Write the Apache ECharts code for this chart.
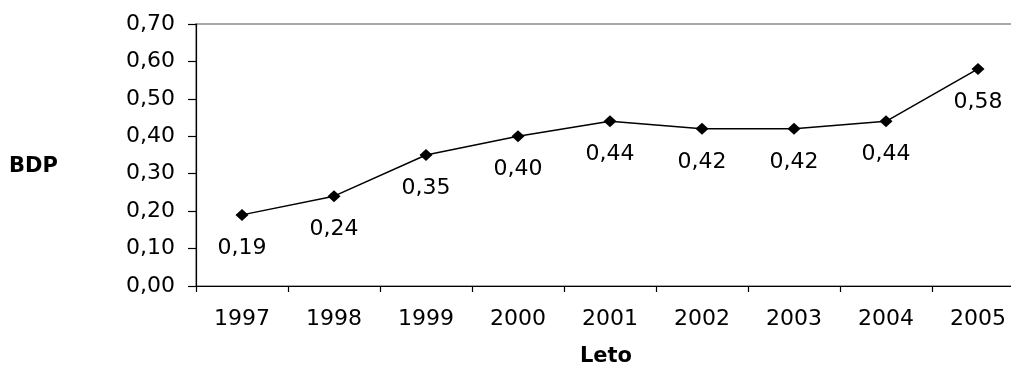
<!DOCTYPE html>
<html>
<head>
<meta charset="utf-8">
<script src="https://cdn.jsdelivr.net/npm/echarts@6/dist/echarts.min.js"></script>
<style>
html,body{margin:0;padding:0;background:#fff;}
#chart{width:1011px;height:367px;}
</style>
</head>
<body>
<div id="chart"></div>
<script>
const years = ['1997','1998','1999','2000','2001','2002','2003','2004','2005'];
const bdp = [0.19, 0.24, 0.35, 0.40, 0.44, 0.42, 0.42, 0.44, 0.58];
const yMin = 0, yMax = 0.7, yStep = 0.1;

const fmt = v => Number(v).toFixed(2).replace('.', ',');
const FONT = 'DejaVu Sans';

const chart = echarts.init(document.getElementById('chart'), null, {renderer: 'canvas'});
chart.setOption({
  backgroundColor: '#fff',
  animation: false,
  grid: {
    left: 196, top: 24, width: 828, height: 262,
    outerBoundsMode: 'none',
    containLabel: false,
    show: true, borderColor: '#8c8c8c', borderWidth: 1.5, backgroundColor: 'transparent'
  },
  graphic: [{
    type: 'text',
    left: 9, top: 156,
    style: {text: 'BDP', fontFamily: FONT, fontWeight: 'bold', fontSize: 21, fill: '#000'}
  }],
  xAxis: {
    type: 'category',
    data: years,
    boundaryGap: true,
    name: 'Leto',
    nameLocation: 'middle',
    nameGap: 60,
    nameTextStyle: {fontFamily: FONT, fontWeight: 'bold', fontSize: 21, color: '#000', padding: [0, 8, 0, 0]},
    axisLine: {show: true, lineStyle: {color: '#000', width: 1.2}},
    axisTick: {show: true, length: 6, alignWithLabel: false, lineStyle: {color: '#000', width: 1.2}},
    axisLabel: {margin: 22, fontFamily: FONT, fontSize: 22, color: '#000'},
    splitLine: {show: false}
  },
  yAxis: {
    type: 'value',
    min: yMin, max: yMax, interval: yStep,
    axisLine: {show: true, lineStyle: {color: '#000', width: 1.2}},
    axisTick: {show: true, length: 8, lineStyle: {color: '#000', width: 1.2}},
    axisLabel: {margin: 21, fontFamily: FONT, fontSize: 22, color: '#000', formatter: fmt},
    splitLine: {show: false}
  },
  series: [{
    type: 'line',
    data: bdp,
    symbol: 'diamond',
    symbolSize: [13, 12],
    itemStyle: {color: '#000'},
    lineStyle: {color: '#000', width: 1.5},
    label: {
      show: true, position: 'bottom', distance: 16,
      fontFamily: FONT, fontSize: 22, color: '#000',
      formatter: p => fmt(p.value)
    }
  }]
});
</script>
</body>
</html>
